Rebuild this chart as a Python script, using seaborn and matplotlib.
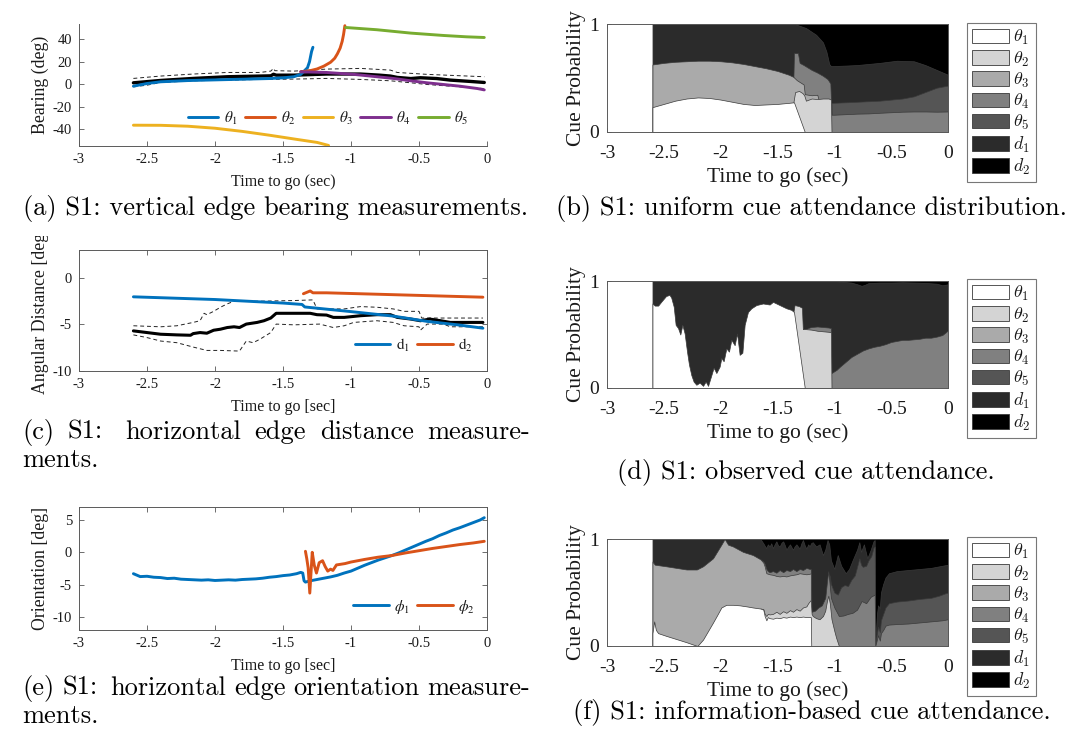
import numpy as np
import matplotlib
matplotlib.use("Agg")
import matplotlib.pyplot as plt
import seaborn as sns
from matplotlib.patches import Patch
from matplotlib.font_manager import FontProperties
from matplotlib.transforms import Bbox, TransformedBbox

# ---------------------------------------------------------------- data
TIME_TICKS = [-3, -2.5, -2, -1.5, -1, -0.5, 0]
TIME_TICK_LABELS = ["-3", "-2.5", "-2", "-1.5", "-1", "-0.5", "0"]

# (a) vertical edge bearings [deg]
BEAR_T_THETA1 = [-2.6, -2.5, -2.4, -2.2, -2.0, -1.8, -1.6, -1.5, -1.42, -1.37, -1.35, -1.32, -1.305, -1.29, -1.28]
BEAR_THETA1 = [-1.8, 0.6, 2.1, 3.2, 3.8, 4.4, 5.0, 5.6, 6.6, 8.7, 11.0, 14.6, 20.0, 29.0, 32.8]
BEAR_T_THETA2 = [-1.37, -1.3, -1.25, -1.2, -1.15, -1.12, -1.1, -1.08, -1.065, -1.055, -1.045]
BEAR_THETA2 = [11.0, 12.0, 13.5, 16.0, 19.5, 23.0, 27.0, 32.0, 38.0, 44.0, 52.0]
BEAR_T_THETA3 = [-2.6, -2.4, -2.2, -2.0, -1.8, -1.6, -1.4, -1.25, -1.165]
BEAR_THETA3 = [-36.5, -36.6, -37.4, -39.2, -42.0, -45.4, -49.1, -51.8, -54.5]
BEAR_T_THETA4 = [-1.37, -1.18, -0.98, -0.81, -0.69, -0.56, -0.44, -0.32, -0.2, -0.07, -0.02]
BEAR_THETA4 = [11.0, 10.4, 8.7, 6.6, 5.1, 3.0, 1.2, -0.3, -1.8, -3.9, -5.1]
BEAR_T_THETA5 = [-1.04, -0.81, -0.56, -0.32, -0.15, -0.02]
BEAR_THETA5 = [50.4, 48.4, 45.4, 43.3, 42.1, 41.5]
BEAR_T_MEAN = [-2.6, -2.4, -2.16, -1.91, -1.67, -1.59, -1.57, -1.55, -1.42, -1.18, -0.93, -0.79,
               -0.71, -0.66, -0.56, -0.49, -0.37, -0.27, -0.12, -0.02]
BEAR_MEAN = [1.2, 3.3, 5.1, 6.6, 7.2, 7.4, 8.8, 8.0, 8.0, 9.0, 9.0, 8.0, 7.2, 6.0, 5.0, 5.7, 5.0, 3.6, 2.4, 1.5]
BEAR_T_UPPER = [-2.6, -2.4, -2.16, -1.91, -1.67, -1.59, -1.57, -1.56, -1.42, -1.18, -0.93, -0.71, -0.66,
                -0.44, -0.2, -0.02]
BEAR_UPPER = [5.1, 7.2, 9.0, 10.4, 10.4, 11.6, 14.0, 12.0, 11.6, 13.4, 14.0, 12.5, 10.4, 8.7, 7.5, 6.6]
BEAR_T_LOWER = [-2.6, -2.5, -2.4, -2.16, -1.91, -1.67, -1.42, -1.18, -0.93, -0.71, -0.56, -0.44, -0.2, -0.02]
BEAR_LOWER = [-2.4, -0.9, 1.5, 3.0, 3.6, 4.2, 4.5, 5.1, 4.2, 3.0, 1.2, -0.3, -2.4, -3.9]

# (c) horizontal edge angular distances [deg]
DIST_T_D1 = [-2.6, -2.0, -1.5, -1.36, -1.34, -1.0, -0.69, -0.44, -0.2, -0.03]
DIST_D1 = [-2.03, -2.32, -2.7, -2.85, -3.12, -3.62, -4.1, -4.67, -5.07, -5.4]
DIST_T_D2 = [-1.35, -1.32, -1.30, -1.28, -1.18, -0.69, -0.03]
DIST_D2 = [-1.7, -1.52, -1.4, -1.6, -1.6, -1.8, -2.07]
DIST_T_MEAN = [-2.6, -2.5, -2.4, -2.28, -2.18, -2.16, -2.11, -2.06, -2.01, -1.96, -1.91, -1.86, -1.82,
               -1.77, -1.69, -1.64, -1.59, -1.55, -1.42, -1.3, -1.25, -1.18, -1.13, -1.05, -0.93, -0.81,
               -0.71, -0.66, -0.56, -0.49, -0.42, -0.34, -0.27, -0.15, -0.03]
DIST_MEAN = [-5.69, -5.87, -6.05, -6.12, -6.16, -5.98, -5.87, -5.94, -5.62, -5.51, -5.33, -5.25, -5.33,
             -4.96, -4.78, -4.6, -4.31, -3.8, -3.8, -3.8, -3.95, -3.99, -4.24, -4.24, -4.06, -3.95,
             -3.95, -4.24, -4.42, -4.6, -4.42, -4.6, -4.78, -4.78, -4.78]
DIST_T_UPPER = [-2.6, -2.4, -2.28, -2.16, -2.11, -2.08, -2.06, -2.01, -1.96, -1.91, -1.86, -1.67, -1.42,
                -1.28, -1.25, -1.05, -0.93, -0.81, -0.69, -0.61, -0.5, -0.48, -0.32, -0.03]
DIST_UPPER = [-5.14, -5.25, -5.14, -4.78, -4.6, -3.8, -3.95, -3.59, -3.15, -2.79, -2.5, -2.5, -2.43,
              -2.36, -3.33, -3.33, -3.08, -3.15, -3.33, -3.59, -3.59, -4.31, -4.31, -4.31]
DIST_T_LOWER = [-2.6, -2.5, -2.4, -2.28, -2.16, -2.06, -1.96, -1.82, -1.77, -1.72, -1.67, -1.59, -1.55,
                -1.42, -1.23, -1.13, -1.05, -0.98, -0.81, -0.69, -0.61, -0.5, -0.49, -0.44, -0.32,
                -0.27, -0.03]
DIST_LOWER = [-6.12, -6.41, -6.78, -6.96, -7.43, -7.79, -7.79, -7.86, -6.78, -6.96, -6.59, -5.87, -4.96,
              -5.04, -4.96, -5.33, -5.14, -4.78, -4.6, -4.78, -5.14, -5.25, -5.62, -4.96, -4.96,
              -5.25, -5.25]

# (e) horizontal edge orientations [deg]
ORI_T_PHI1 = [-2.6, -2.55, -2.5, -2.45, -2.4, -2.35, -2.3, -2.25, -2.2, -2.15, -2.1, -2.05, -2.0, -1.95,
              -1.9, -1.85, -1.8, -1.75, -1.7, -1.65, -1.6, -1.55, -1.5, -1.45, -1.4, -1.37, -1.355,
              -1.345, -1.335, -1.3, -1.25, -1.2, -1.15, -1.1, -1.05, -1.0, -0.95, -0.9, -0.85, -0.8,
              -0.75, -0.7, -0.65, -0.6, -0.55, -0.5, -0.45, -0.4, -0.35, -0.3, -0.25, -0.2, -0.15,
              -0.1, -0.05, -0.02]
ORI_PHI1 = [-3.3, -3.75, -3.7, -3.85, -3.9, -4.05, -4.0, -4.15, -4.2, -4.25, -4.3, -4.25, -4.35, -4.3,
            -4.25, -4.3, -4.2, -4.15, -4.1, -4.0, -3.85, -3.75, -3.6, -3.5, -3.3, -3.1, -3.2, -4.4,
            -4.6, -4.4, -4.2, -4.0, -3.8, -3.55, -3.2, -2.9, -2.45, -2.0, -1.6, -1.2, -0.85, -0.5,
            -0.1, 0.35, 0.8, 1.25, 1.7, 2.1, 2.6, 3.0, 3.45, 3.8, 4.2, 4.6, 5.0, 5.35]
ORI_T_PHI2 = [-1.335, -1.325, -1.315, -1.303, -1.285, -1.27, -1.254, -1.234, -1.209, -1.19, -1.171,
              -1.15, -1.133, -1.107, -1.044, -1.0, -0.9, -0.8, -0.7, -0.6, -0.5, -0.4, -0.3, -0.2,
              -0.1, -0.02]
ORI_PHI2 = [0.16, -1.0, -2.4, -6.3, 0.0, -2.0, -3.2, -1.6, -1.3, -2.2, -2.9, -2.6, -2.8, -1.95, -1.74,
            -1.5, -1.1, -0.75, -0.5, -0.1, 0.25, 0.6, 0.9, 1.2, 1.45, 1.7]

# cue attendance: (time to go, cumulative probability at the top of the cue's band)
# (b) uniform cue attendance
UNI_THETA1 = [(-2.6, 0.23), (-2.5, 0.26), (-2.4, 0.29), (-2.3, 0.31), (-2.2, 0.32), (-2.1, 0.315),
              (-2.0, 0.30), (-1.9, 0.28), (-1.8, 0.26), (-1.7, 0.25), (-1.6, 0.255), (-1.5, 0.26),
              (-1.4, 0.27), (-1.355, 0.275), (-1.26, 0.0)]
UNI_THETA2 = [(-1.36, 0.275), (-1.345, 0.37), (-1.31, 0.38), (-1.28, 0.36), (-1.265, 0.34),
              (-1.25, 0.29), (-1.2, 0.31), (-1.15, 0.305), (-1.1, 0.31), (-1.05, 0.31), (-1.03, 0.30),
              (-1.025, 0.0)]
UNI_THETA3 = [(-2.6, 0.625), (-2.5, 0.64), (-2.4, 0.65), (-2.3, 0.655), (-2.2, 0.66), (-2.1, 0.66),
              (-2.0, 0.655), (-1.9, 0.645), (-1.8, 0.63), (-1.7, 0.61), (-1.6, 0.59), (-1.5, 0.565),
              (-1.4, 0.53), (-1.36, 0.51), (-1.33, 0.48), (-1.3, 0.46), (-1.27, 0.44), (-1.26, 0.35),
              (-1.2, 0.34), (-1.15, 0.345), (-1.14, 0.305)]
UNI_THETA4 = [(-1.36, 0.51), (-1.355, 0.73), (-1.32, 0.73), (-1.305, 0.64), (-1.27, 0.62), (-1.2, 0.575),
              (-1.15, 0.55), (-1.1, 0.52), (-1.06, 0.49), (-1.035, 0.45), (-1.025, 0.16), (-1.0, 0.16),
              (-0.9, 0.165), (-0.8, 0.17), (-0.7, 0.172), (-0.6, 0.178), (-0.5, 0.183), (-0.4, 0.188),
              (-0.3, 0.19), (-0.2, 0.19), (-0.1, 0.188), (0.0, 0.19)]
UNI_THETA5 = [(-1.025, 0.27), (-0.9, 0.275), (-0.8, 0.28), (-0.7, 0.285), (-0.6, 0.29), (-0.5, 0.30),
              (-0.4, 0.31), (-0.3, 0.33), (-0.2, 0.37), (-0.1, 0.41), (0.0, 0.43)]
UNI_D1 = [(-2.6, 1.0), (-1.35, 1.0), (-1.25, 0.963), (-1.16, 0.9), (-1.1, 0.83), (-1.07, 0.745),
          (-1.045, 0.63), (-1.03, 0.61), (-0.9, 0.615), (-0.8, 0.62), (-0.6, 0.64), (-0.45, 0.66),
          (-0.3, 0.655), (-0.2, 0.62), (-0.1, 0.575), (0.0, 0.53)]
UNI_D2 = [(-1.35, 1.0), (0.0, 1.0)]

# (d) observed cue attendance
OBS_THETA1 = [(-2.6, 0.79), (-2.58, 0.77), (-2.55, 0.77), (-2.52, 0.81), (-2.48, 0.86), (-2.45, 0.87),
              (-2.435, 0.845), (-2.413, 0.76), (-2.396, 0.59), (-2.375, 0.56), (-2.355, 0.50),
              (-2.337, 0.59), (-2.317, 0.51), (-2.296, 0.34), (-2.279, 0.22), (-2.258, 0.12),
              (-2.238, 0.06), (-2.214, 0.03), (-2.185, 0.05), (-2.155, 0.02), (-2.132, 0.06),
              (-2.111, 0.02), (-2.082, 0.12), (-2.062, 0.19), (-2.038, 0.14), (-2.009, 0.20),
              (-1.994, 0.28), (-1.974, 0.25), (-1.95, 0.37), (-1.927, 0.34), (-1.906, 0.45),
              (-1.877, 0.40), (-1.856, 0.51), (-1.833, 0.31), (-1.809, 0.33), (-1.789, 0.59),
              (-1.76, 0.71), (-1.73, 0.745), (-1.686, 0.775), (-1.628, 0.79), (-1.569, 0.78),
              (-1.54, 0.805), (-1.481, 0.775), (-1.422, 0.745), (-1.378, 0.73), (-1.355, 0.71),
              (-1.26, 0.0)]
OBS_THETA2 = [(-1.36, 0.71), (-1.35, 0.775), (-1.31, 0.765), (-1.285, 0.75), (-1.277, 0.55),
              (-1.25, 0.55), (-1.2, 0.545), (-1.15, 0.535), (-1.1, 0.53), (-1.05, 0.525), (-1.03, 0.52),
              (-1.025, 0.0)]
OBS_THETA3 = []
OBS_THETA4 = [(-1.25, 0.55), (-1.22, 0.565), (-1.2, 0.57), (-1.15, 0.575), (-1.1, 0.57), (-1.05, 0.565),
              (-1.03, 0.56), (-1.025, 0.14), (-0.98, 0.17), (-0.95, 0.2), (-0.9, 0.245), (-0.85, 0.29),
              (-0.8, 0.32), (-0.75, 0.35), (-0.7, 0.37), (-0.65, 0.385), (-0.6, 0.395), (-0.55, 0.41),
              (-0.5, 0.43), (-0.45, 0.44), (-0.4, 0.45), (-0.35, 0.45), (-0.3, 0.455), (-0.25, 0.46),
              (-0.2, 0.47), (-0.15, 0.47), (-0.1, 0.48), (-0.05, 0.495), (-0.02, 0.52), (0.0, 0.54)]
OBS_THETA5 = []
OBS_D1 = [(-2.6, 1.0), (-1.0, 1.0), (-0.95, 0.995), (-0.9, 0.99), (-0.85, 0.985), (-0.8, 0.97),
          (-0.76, 0.955), (-0.73, 0.965), (-0.7, 0.98), (-0.6, 0.985), (-0.5, 0.985), (-0.4, 0.988),
          (-0.3, 0.985), (-0.2, 0.982), (-0.1, 0.975), (-0.05, 0.96), (-0.02, 0.965), (0.0, 0.97)]
OBS_D2 = [(-1.0, 1.0), (0.0, 1.0)]

# (f) information-based cue attendance
INFO_THETA1 = [(-2.6, 0.12), (-2.585, 0.23), (-2.57, 0.15), (-2.55, 0.12), (-2.48, 0.095), (-2.39, 0.065),
               (-2.3, 0.035), (-2.205, 0.0), (-2.155, 0.06), (-2.1, 0.16), (-2.067, 0.22), (-2.03, 0.29),
               (-1.994, 0.36), (-1.95, 0.385), (-1.89, 0.385), (-1.833, 0.38), (-1.77, 0.37),
               (-1.716, 0.36), (-1.65, 0.35), (-1.625, 0.34), (-1.613, 0.28), (-1.598, 0.24),
               (-1.585, 0.27), (-1.569, 0.26), (-1.54, 0.255), (-1.51, 0.265), (-1.481, 0.26),
               (-1.45, 0.27), (-1.422, 0.265), (-1.39, 0.275), (-1.364, 0.27), (-1.334, 0.275),
               (-1.305, 0.27), (-1.276, 0.275), (-1.246, 0.27), (-1.217, 0.27), (-1.207, 0.27),
               (-1.203, 0.0)]
INFO_THETA2 = [(-1.65, 0.35), (-1.625, 0.345), (-1.613, 0.30), (-1.598, 0.28), (-1.585, 0.30),
               (-1.569, 0.295), (-1.54, 0.30), (-1.51, 0.32), (-1.481, 0.30), (-1.45, 0.325),
               (-1.422, 0.31), (-1.39, 0.335), (-1.364, 0.32), (-1.334, 0.345), (-1.305, 0.33),
               (-1.276, 0.36), (-1.246, 0.37), (-1.23, 0.40), (-1.215, 0.42), (-1.207, 0.43),
               (-1.2, 0.30), (-1.19, 0.28), (-1.16, 0.26), (-1.13, 0.25), (-1.10, 0.28), (-1.08, 0.33),
               (-1.065, 0.42), (-1.053, 0.47), (-1.04, 0.40), (-1.025, 0.25), (-1.0, 0.14),
               (-0.985, 0.08), (-0.96, 0.0)]
INFO_THETA3 = [(-2.6, 0.79), (-2.58, 0.76), (-2.48, 0.745), (-2.39, 0.73), (-2.30, 0.715), (-2.21, 0.715),
               (-2.155, 0.745), (-2.067, 0.82), (-1.994, 0.947), (-1.965, 1.0), (-1.935, 0.947),
               (-1.891, 0.93), (-1.804, 0.88), (-1.716, 0.85), (-1.65, 0.81), (-1.625, 0.78),
               (-1.613, 0.745), (-1.598, 0.68), (-1.569, 0.67), (-1.54, 0.665), (-1.51, 0.655),
               (-1.481, 0.65), (-1.45, 0.655), (-1.422, 0.65), (-1.39, 0.66), (-1.364, 0.665),
               (-1.334, 0.67), (-1.305, 0.68), (-1.276, 0.675), (-1.246, 0.67), (-1.217, 0.675),
               (-1.207, 0.68)]
INFO_THETA4 = [(-1.65, 0.81), (-1.625, 0.79), (-1.613, 0.77), (-1.598, 0.72), (-1.585, 0.70),
               (-1.569, 0.69), (-1.54, 0.70), (-1.51, 0.685), (-1.481, 0.71), (-1.45, 0.69),
               (-1.422, 0.71), (-1.39, 0.70), (-1.364, 0.72), (-1.334, 0.70), (-1.305, 0.72),
               (-1.276, 0.71), (-1.246, 0.73), (-1.217, 0.72), (-1.207, 0.72), (-1.2, 0.32),
               (-1.17, 0.33), (-1.14, 0.36), (-1.11, 0.38), (-1.08, 0.45), (-1.065, 0.60), (-1.053, 0.70),
               (-1.045, 0.62), (-1.03, 0.45), (-1.0, 0.36), (-0.96, 0.28), (-0.92, 0.285), (-0.88, 0.30),
               (-0.84, 0.31), (-0.80, 0.34), (-0.76, 0.42), (-0.72, 0.40), (-0.68, 0.46), (-0.645, 0.48),
               (-0.64, 0.0), (-0.625, 0.06), (-0.615, 0.10), (-0.60, 0.05), (-0.59, 0.12), (-0.57, 0.15),
               (-0.55, 0.19), (-0.52, 0.20), (-0.45, 0.205), (-0.35, 0.21), (-0.25, 0.22), (-0.15, 0.23),
               (-0.05, 0.24), (0.0, 0.25)]
INFO_THETA5 = [(-1.04, 0.66), (-1.03, 0.58), (-1.0, 0.50), (-0.97, 0.48), (-0.94, 0.55), (-0.91, 0.57),
               (-0.88, 0.56), (-0.85, 0.62), (-0.82, 0.66), (-0.80, 0.74), (-0.78, 0.82), (-0.765, 0.76),
               (-0.75, 0.74), (-0.72, 0.75), (-0.70, 0.80), (-0.675, 0.84), (-0.655, 0.92), (-0.645, 0.93),
               (-0.64, 0.01), (-0.625, 0.12), (-0.615, 0.18), (-0.60, 0.13), (-0.59, 0.24), (-0.57, 0.30),
               (-0.55, 0.36), (-0.52, 0.40), (-0.45, 0.415), (-0.35, 0.425), (-0.25, 0.44), (-0.15, 0.45),
               (-0.08, 0.47), (-0.03, 0.49), (0.0, 0.50)]
INFO_D1 = [(-2.6, 1.0), (-1.65, 1.0), (-1.625, 0.96), (-1.60, 0.915), (-1.585, 0.95), (-1.569, 0.93),
           (-1.555, 0.96), (-1.54, 0.915), (-1.525, 0.95), (-1.51, 0.978), (-1.495, 0.94), (-1.481, 0.93),
           (-1.465, 0.965), (-1.45, 0.978), (-1.435, 0.94), (-1.422, 0.90), (-1.405, 0.93), (-1.39, 0.95),
           (-1.375, 0.92), (-1.364, 0.90), (-1.35, 0.93), (-1.334, 0.95), (-1.32, 0.93), (-1.305, 0.91),
           (-1.29, 0.96), (-1.276, 0.99), (-1.26, 0.94), (-1.246, 0.91), (-1.23, 0.95), (-1.217, 0.93),
           (-1.205, 0.96), (-1.19, 0.97), (-1.16, 0.93), (-1.13, 0.95), (-1.10, 0.85), (-1.08, 0.9),
           (-1.06, 0.99), (-1.045, 0.95), (-1.03, 0.80), (-1.0, 0.72), (-0.97, 0.85), (-0.94, 0.75),
           (-0.90, 0.68), (-0.87, 0.72), (-0.84, 0.80), (-0.80, 0.90), (-0.78, 0.97), (-0.765, 0.88),
           (-0.74, 0.95), (-0.71, 0.82), (-0.68, 0.9), (-0.655, 0.98), (-0.645, 0.99), (-0.64, 0.03),
           (-0.625, 0.30), (-0.615, 0.38), (-0.60, 0.35), (-0.59, 0.50), (-0.57, 0.58), (-0.55, 0.64),
           (-0.52, 0.68), (-0.45, 0.70), (-0.35, 0.71), (-0.25, 0.72), (-0.15, 0.73), (-0.05, 0.75),
           (0.0, 0.76)]
INFO_D2 = [(-1.65, 1.0), (0.0, 1.0)]

CUE_LABELS = [r"$\theta_1$", r"$\theta_2$", r"$\theta_3$", r"$\theta_4$", r"$\theta_5$", r"$d_1$", r"$d_2$"]
CUE_GRAYS = ["#ffffff", "#d4d4d4", "#aaaaaa", "#808080", "#555555", "#2b2b2b", "#000000"]
LINE_COLORS = ["#0072BD", "#D95319", "#EDB120", "#7E2F8E", "#77AC30"]

CAPTIONS = {
    "a": "(a) S1: vertical edge bearing measurements.",
    "b": "(b) S1: uniform cue attendance distribution.",
    "c": ["(c)", "S1:", "horizontal", "edge", "distance", "measure-"],
    "d": "(d) S1: observed cue attendance.",
    "e": ["(e)", "S1:", "horizontal", "edge", "orientation", "measure-"],
    "f": "(f) S1: information-based cue attendance.",
}

# ---------------------------------------------------------------- style
sns.set_theme(style="ticks")
plt.rcParams.update({
    "mathtext.fontset": "stix",
    "axes.edgecolor": "#5a5a5a",
    "axes.linewidth": 0.7,
    "axes.facecolor": "white",
    "figure.facecolor": "white",
    "text.color": "#1a1a1a",
    "axes.labelcolor": "#1a1a1a",
})
plt.rcParams["font.family"] = ["Liberation Serif", "DejaVu Serif"]

W, H = 1075, 745
fig = plt.figure(figsize=(W / 100, H / 100), dpi=100)


def axes_px(left, right, top, bottom):
    return fig.add_axes([left / W, 1 - bottom / H, (right - left) / W, (bottom - top) / H])


def fig_y(y_px):
    return 1 - y_px / H


def series(ax, t, v, color, lw, label=None, ls="-"):
    sns.lineplot(x=t, y=v, ax=ax, color=color, linewidth=lw, linestyle=ls, label=label,
                 legend=False, sort=False, estimator=None)
    return ax.lines[-1]


def style_measure_axes(ax, ylim, yticks, xlabel, ylabel, boxed):
    ax.set_xlim(-3, 0)
    ax.set_ylim(*ylim)
    ax.set_xticks(TIME_TICKS, TIME_TICK_LABELS)
    ax.set_yticks(yticks, [f"{v:g}" for v in yticks])
    ax.tick_params(axis="both", direction="in", length=3.5, width=0.6, color="#555555",
                   labelsize=10.5, labelcolor="#1a1a1a", pad=5, top=boxed, right=boxed)
    ax.spines["top"].set_visible(boxed)
    ax.spines["right"].set_visible(boxed)
    ax.set_xlabel(xlabel, fontsize=11.5, labelpad=5.5)
    ax.set_ylabel(ylabel, fontsize=12.8, labelpad=2.5)


def style_cue_axes(ax):
    ax.set_xlim(-3, 0)
    ax.set_ylim(0, 1)
    ax.set_xticks(TIME_TICKS, TIME_TICK_LABELS)
    ax.set_yticks([0, 1], ["0", "1"])
    ax.tick_params(axis="x", pad=9.5)
    ax.tick_params(axis="y", pad=6)
    ax.tick_params(axis="both", direction="in", length=3, width=0.6, color="#555555",
                   labelsize=14, labelcolor="#1a1a1a", top=True, right=True)
    ax.set_xlabel("Time to go (sec)", fontsize=15.5, labelpad=3.5)
    ax.set_ylabel("Cue Probability", fontsize=15.5, labelpad=2)


def draw_cues(ax, layers, top_px):
    # paint from the top of the stack downwards so each band keeps only its own slice
    for pairs, color in reversed(list(zip(layers, CUE_GRAYS))):
        if not pairs:
            continue
        t, p = np.array(pairs, dtype=float).T
        ax.fill_between(t, 0, p, facecolor=color, edgecolor="#3a3a3a", linewidth=0.5, zorder=2)
    handles = [Patch(facecolor=c, edgecolor="#3a3a3a", linewidth=0.6) for c in CUE_GRAYS]
    leg = ax.legend(handles, CUE_LABELS, loc="upper left", bbox_to_anchor=(967 / W, fig_y(top_px)),
                    bbox_transform=fig.transFigure, frameon=True, fancybox=False, framealpha=1,
                    edgecolor="#777777", borderaxespad=0, borderpad=0.3, handlelength=2.05,
                    handleheight=0.85, handletextpad=0.2, labelspacing=0.12,
                    prop=FontProperties(family="Liberation Serif", size=13, math_fontfamily="cm"))
    leg.get_frame().set_linewidth(0.8)


# ---------------------------------------------------------------- (a)
ax_a = axes_px(79, 487, 24, 146)
series(ax_a, BEAR_T_UPPER, BEAR_UPPER, "#222222", 0.7, ls=(0, (4, 3)))
series(ax_a, BEAR_T_LOWER, BEAR_LOWER, "#222222", 0.7, ls=(0, (4, 3)))
series(ax_a, BEAR_T_MEAN, BEAR_MEAN, "black", 2.4)
bear_lines = [
    series(ax_a, BEAR_T_THETA1, BEAR_THETA1, LINE_COLORS[0], 2.1, r"$\theta_1$"),
    series(ax_a, BEAR_T_THETA2, BEAR_THETA2, LINE_COLORS[1], 2.1, r"$\theta_2$"),
    series(ax_a, BEAR_T_THETA3, BEAR_THETA3, LINE_COLORS[2], 2.1, r"$\theta_3$"),
    series(ax_a, BEAR_T_THETA4, BEAR_THETA4, LINE_COLORS[3], 2.1, r"$\theta_4$"),
    series(ax_a, BEAR_T_THETA5, BEAR_THETA5, LINE_COLORS[4], 2.1, r"$\theta_5$"),
]
style_measure_axes(ax_a, (-55, 53.5), [-40, -20, 0, 20, 40], "Time to go (sec)", "Bearing (deg)", False)
ax_a.legend(handles=bear_lines, loc="center", bbox_to_anchor=(0.61, 0.227), ncol=5, frameon=False,
            fontsize=11, handlelength=2.0, handletextpad=0.35, columnspacing=0.5, borderpad=0,
            borderaxespad=0)

# ---------------------------------------------------------------- (c)
ax_c = axes_px(79, 487, 250, 371)
series(ax_c, DIST_T_UPPER, DIST_UPPER, "#222222", 0.7, ls=(0, (4, 3)))
series(ax_c, DIST_T_LOWER, DIST_LOWER, "#222222", 0.7, ls=(0, (4, 3)))
series(ax_c, DIST_T_MEAN, DIST_MEAN, "black", 2.2)
dist_lines = [
    series(ax_c, DIST_T_D1, DIST_D1, LINE_COLORS[0], 2.1, r"$\mathrm{d}_1$"),
    series(ax_c, DIST_T_D2, DIST_D2, LINE_COLORS[1], 2.1, r"$\mathrm{d}_2$"),
]
style_measure_axes(ax_c, (-10, 3), [-10, -5, 0], "Time to go [sec]", "Angular Distance [deg]", True)
ax_c.legend(handles=dist_lines, loc="center", bbox_to_anchor=(0.821, 0.215), ncol=2, frameon=False,
            fontsize=11, handlelength=2.3, handletextpad=0.35, columnspacing=0.5, borderpad=0,
            borderaxespad=0)
ylab = ax_c.yaxis.label
ylab.set_clip_box(TransformedBbox(Bbox.from_extents(0, fig_y(490), 0.5, fig_y(236)), fig.transFigure))
ylab.set_clip_on(True)

# ---------------------------------------------------------------- (e)
ax_e = axes_px(79, 487, 507, 630)
ori_lines = [
    series(ax_e, ORI_T_PHI1, ORI_PHI1, LINE_COLORS[0], 2.1, r"$\phi_1$"),
    series(ax_e, ORI_T_PHI2, ORI_PHI2, LINE_COLORS[1], 2.1, r"$\phi_2$"),
]
style_measure_axes(ax_e, (-12, 7), [-10, -5, 0, 5], "Time to go [sec]", "Orientation [deg]", True)
ax_e.legend(handles=ori_lines, loc="center", bbox_to_anchor=(0.821, 0.19), ncol=2, frameon=False,
            fontsize=11, handlelength=2.3, handletextpad=0.35, columnspacing=0.5, borderpad=0,
            borderaxespad=0)

# ---------------------------------------------------------------- (b), (d), (f)
ax_b = axes_px(607, 948, 24, 132)
draw_cues(ax_b, [UNI_THETA1, UNI_THETA2, UNI_THETA3, UNI_THETA4, UNI_THETA5, UNI_D1, UNI_D2], 23)
style_cue_axes(ax_b)

ax_d = axes_px(607, 948, 281, 388)
draw_cues(ax_d, [OBS_THETA1, OBS_THETA2, OBS_THETA3, OBS_THETA4, OBS_THETA5, OBS_D1, OBS_D2], 279)
style_cue_axes(ax_d)

ax_f = axes_px(607, 948, 539, 646)
draw_cues(ax_f, [INFO_THETA1, INFO_THETA2, INFO_THETA3, INFO_THETA4, INFO_THETA5, INFO_D1, INFO_D2], 537)
style_cue_axes(ax_f)

for ax in (ax_a, ax_b, ax_c, ax_d, ax_e, ax_f):
    ax.grid(False)

# ---------------------------------------------------------------- captions
renderer = fig.canvas.get_renderer()
probe = fig.text(0, 0, CAPTIONS["b"], fontfamily="cmr10", fontsize=16)
cap_size = 16 * 511 / probe.get_window_extent(renderer).width
probe.remove()


def caption(text, x_px, y_px, ha="center"):
    fig.text(x_px / W, fig_y(y_px), text, fontfamily="cmr10", fontsize=cap_size, ha=ha, va="center",
             color="black")


def justified(words, x0_px, x1_px, y_px, weights):
    items = [fig.text(0, fig_y(y_px), w, fontfamily="cmr10", fontsize=cap_size, va="center",
                      color="black") for w in words]
    widths = [t.get_window_extent(renderer).width for t in items]
    gap_unit = (x1_px - x0_px - sum(widths)) / sum(weights)
    x = x0_px
    for i, (item, w) in enumerate(zip(items, widths)):
        item.set_x(x / W)
        x += w + (gap_unit * weights[i] if i < len(weights) else 0)


caption(CAPTIONS["a"], 276, 208)
caption(CAPTIONS["b"], 812, 208)
justified(CAPTIONS["c"], 22, 530, 432, [1, 1.6, 1, 1, 1])
caption("ments.", 22, 460, ha="left")
caption(CAPTIONS["d"], 806, 473)
justified(CAPTIONS["e"], 22, 530, 688, [1, 1.6, 1, 1, 1])
caption("ments.", 22, 716, ha="left")
caption(CAPTIONS["f"], 812, 713)

fig.savefig("out.png", dpi=100, facecolor="white")
